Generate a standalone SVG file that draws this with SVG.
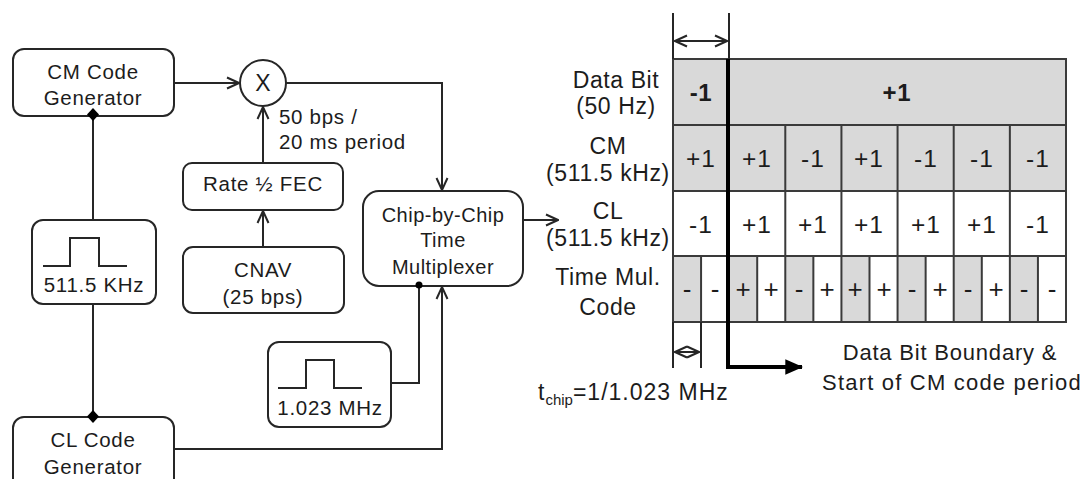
<svg xmlns="http://www.w3.org/2000/svg" width="1086" height="479" viewBox="0 0 1086 479">
<defs>
<style>
text{font-family:"Liberation Sans",Arial,sans-serif;fill:#1c1c1c;text-anchor:middle;letter-spacing:0.7px}
.t{font-size:20.5px}
.lab{font-size:23px;letter-spacing:0.6px}
.v{font-size:24.5px;letter-spacing:1px}
.sg{font-size:26px;letter-spacing:0}
.b{font-size:24px;font-weight:bold}
.s{font-size:20px;letter-spacing:0.5px}
.box{fill:#fff;stroke:#262626;stroke-width:2}
.ln{fill:none;stroke:#262626;stroke-width:2}
.grid{fill:none;stroke:#3a3a3a;stroke-width:2}
.g{fill:#d9d9d9}
.thick{fill:none;stroke:#000;stroke-width:4}
</style>
<marker id="open" viewBox="0 0 14 14" refX="13" refY="7" markerWidth="14" markerHeight="14" markerUnits="userSpaceOnUse" orient="auto-start-reverse">
<path d="M1,1.5 L13,7 L1,12.5" fill="none" stroke="#262626" stroke-width="2"/>
</marker>
<marker id="solid" viewBox="0 0 14 14" refX="13" refY="7" markerWidth="18" markerHeight="18" markerUnits="userSpaceOnUse" orient="auto">
<path d="M0,1 L14,7 L0,13 Z" fill="#000"/>
</marker>
</defs>

<g id="connectors">
<line class="ln" x1="174" y1="83" x2="239" y2="83" marker-end="url(#open)"/>
<polyline class="ln" points="286,83 442,83 442,190" marker-end="url(#open)"/>
<line class="ln" x1="263" y1="163" x2="263" y2="107" marker-end="url(#open)"/>
<line class="ln" x1="263" y1="247" x2="263" y2="211" marker-end="url(#open)"/>
<line class="ln" x1="93" y1="116" x2="93" y2="220"/>
<line class="ln" x1="93" y1="304" x2="93" y2="417"/>
<polyline class="ln" points="391,383 419,383 419,286"/>
<polyline class="ln" points="174,449 442,449 442,287" marker-end="url(#open)"/>
<line class="ln" x1="523" y1="220" x2="558" y2="220" marker-end="url(#open)"/>
</g>

<g id="cm-gen">
<rect class="box" x="13" y="49" width="161" height="67" rx="11"/>
<text class="t" x="93" y="79">CM Code</text>
<text class="t" x="93" y="105">Generator</text>
</g>

<g id="mixer">
<circle class="box" cx="263" cy="83" r="23"/>
<text x="263" y="91" style="font-size:23px;letter-spacing:0">X</text>
</g>

<text class="t" x="279" y="124" style="text-anchor:start">50 bps /</text>
<text class="t" x="279" y="149" style="text-anchor:start">20 ms period</text>

<g id="fec">
<rect class="box" x="183" y="163" width="160" height="47" rx="9"/>
<text class="t" x="263" y="191">Rate ½ FEC</text>
</g>

<g id="clk511">
<rect class="box" x="32" y="220" width="124" height="84" rx="11"/>
<polyline class="ln" points="43,266 70,266 70,238 99,238 99,266 127,266"/>
<text class="t" x="94" y="292">511.5 KHz</text>
</g>

<g id="cnav">
<rect class="box" x="183" y="247" width="161" height="66" rx="10"/>
<text class="t" x="263" y="277">CNAV</text>
<text class="t" x="263" y="304">(25 bps)</text>
</g>

<g id="mux">
<rect class="box" x="363" y="191" width="160" height="95" rx="16"/>
<text class="s" x="443" y="222">Chip-by-Chip</text>
<text class="s" x="443" y="247">Time</text>
<text class="s" x="443" y="274">Multiplexer</text>
</g>

<g id="clk1023">
<rect class="box" x="268" y="342" width="123" height="85" rx="11"/>
<polyline class="ln" points="278,388 306,388 306,360 334,360 334,388 362,388"/>
<text class="t" x="330" y="415">1.023 MHz</text>
</g>

<g id="cl-gen">
<rect class="box" x="13" y="417" width="161" height="72" rx="11"/>
<text class="t" x="93" y="447">CL Code</text>
<text class="t" x="93" y="474">Generator</text>
</g>

<g id="junctions">
<path d="M93,108 L99,114.5 L93,121 L87,114.5 Z" fill="#000"/>
<path d="M93,410 L99,416.5 L93,423 L87,416.5 Z" fill="#000"/>
<circle cx="419" cy="285" r="3.5" fill="#000"/>
</g>

<g id="labels">
<text class="lab" x="616" y="88">Data Bit</text>
<text class="lab" x="616" y="114">(50 Hz)</text>
<text class="lab" x="608" y="154">CM</text>
<text class="lab" x="608" y="181">(511.5 kHz)</text>
<text class="lab" x="608" y="219">CL</text>
<text class="lab" x="608" y="246">(511.5 kHz)</text>
<text class="lab" x="608" y="285">Time Mul.</text>
<text class="lab" x="608" y="315">Code</text>
</g>

<g id="table">
<rect class="g" x="673" y="59" width="393" height="132"/>
<rect class="g" x="673" y="256" width="28.07" height="66"/>
<rect class="g" x="729.14" y="256" width="28.07" height="66"/>
<rect class="g" x="785.29" y="256" width="28.07" height="66"/>
<rect class="g" x="841.43" y="256" width="28.07" height="66"/>
<rect class="g" x="897.57" y="256" width="28.07" height="66"/>
<rect class="g" x="953.71" y="256" width="28.07" height="66"/>
<rect class="g" x="1009.86" y="256" width="28.07" height="66"/>
<rect class="grid" x="673" y="59" width="393" height="263"/>
<path class="grid" d="M673,125H1066M673,191H1066M673,256H1066
M785.29,125V256M841.43,125V256M897.57,125V256M953.71,125V256M1009.86,125V256
M701.07,256V322M757.21,256V322M785.29,256V322M813.36,256V322M841.43,256V322M869.5,256V322M897.57,256V322M925.64,256V322M953.71,256V322M981.79,256V322M1009.86,256V322M1037.93,256V322"/>
<text class="b" x="701" y="101">-1</text>
<text class="b" x="897" y="101">+1</text>
<text class="v" x="701" y="167">+1</text>
<text class="v" x="757" y="167">+1</text>
<text class="v" x="813" y="167">-1</text>
<text class="v" x="869" y="167">+1</text>
<text class="v" x="926" y="167">-1</text>
<text class="v" x="982" y="167">-1</text>
<text class="v" x="1038" y="167">-1</text>
<text class="v" x="701" y="233">-1</text>
<text class="v" x="757" y="233">+1</text>
<text class="v" x="813" y="233">+1</text>
<text class="v" x="869" y="233">+1</text>
<text class="v" x="926" y="233">+1</text>
<text class="v" x="982" y="233">+1</text>
<text class="v" x="1038" y="233">-1</text>
<text class="sg" x="687" y="298">-</text>
<text class="sg" x="715" y="298">-</text>
<text class="sg" x="743" y="298">+</text>
<text class="sg" x="771" y="298">+</text>
<text class="sg" x="799" y="298">-</text>
<text class="sg" x="827" y="298">+</text>
<text class="sg" x="855" y="298">+</text>
<text class="sg" x="884" y="298">+</text>
<text class="sg" x="912" y="298">-</text>
<text class="sg" x="940" y="298">+</text>
<text class="sg" x="968" y="298">-</text>
<text class="sg" x="996" y="298">+</text>
<text class="sg" x="1024" y="298">-</text>
<text class="sg" x="1052" y="298">-</text>
</g>

<g id="timing-marks">
<line class="ln" x1="673" y1="13" x2="673" y2="59"/>
<line class="ln" x1="729" y1="13" x2="729" y2="59"/>
<line class="ln" x1="675" y1="41" x2="727" y2="41" marker-start="url(#open)" marker-end="url(#open)"/>
<line class="ln" x1="673" y1="322" x2="673" y2="368"/>
<line class="ln" x1="701" y1="322" x2="701" y2="368"/>
<line class="ln" x1="675" y1="352" x2="699" y2="352" marker-start="url(#open)" marker-end="url(#open)"/>
<polyline class="thick" points="728,59 728,367 802,367" marker-end="url(#solid)"/>
<text x="538" y="400" style="text-anchor:start;font-size:23px;letter-spacing:1px">t<tspan style="font-size:15px;letter-spacing:0" dy="5">chip</tspan><tspan dy="-5">=1/1.023 MHz</tspan></text>
<text x="950" y="360" style="font-size:22px;letter-spacing:0.8px">Data Bit Boundary &amp;</text>
<text x="952" y="390" style="font-size:22px;letter-spacing:1.2px">Start of CM code period</text>
</g>
</svg>
